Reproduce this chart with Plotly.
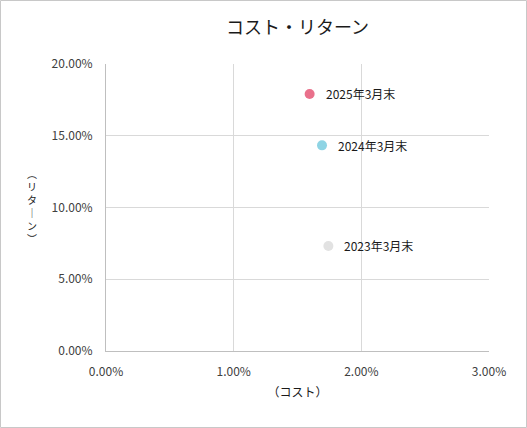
import plotly.graph_objects as go

labels = ["2025年3月末", "2024年3月末", "2023年3月末"]
cost = [0.01595, 0.01692, 0.01742]
ret = [0.1791, 0.1433, 0.0732]
colors = ["#E9708B", "#8ED4E4", "#E2E2E2"]

W, H = 527, 428
ML, MR, MT, MB = 106, 38, 64, 77
FONT = "Noto Sans CJK JP"

fig = go.Figure()
for lab, x, y, c in zip(labels, cost, ret, colors):
    fig.add_trace(go.Scatter(
        x=[x], y=[y], mode="markers", name=lab,
        marker=dict(size=10, color=c, line=dict(width=0)),
        hoverinfo="skip", showlegend=False, cliponaxis=False,
    ))
    fig.add_annotation(x=x, y=y, text=lab, showarrow=False, xanchor="left",
                       xshift=14, yshift=0,
                       font=dict(family=FONT, size=12, color="#1a1a1a"))

# outer border
pw, ph = W - ML - MR, H - MT - MB
fig.add_shape(type="rect", xref="paper", yref="paper",
              x0=(-ML + 0.5) / pw, x1=(pw + MR - 0.5) / pw,
              y0=(-MB + 0.5) / ph, y1=(ph + MT - 0.5) / ph,
              line=dict(color="#C8C8C8", width=1), layer="below")

# vertical y-axis title (stacked characters)
vtitle = "<br>".join(["︵", "リ", "タ", "｜", "ン", "︶"])
fig.add_annotation(xref="paper", yref="paper",
                   x=(32 - ML) / pw, y=(H - MB - 207) / ph,
                   text=vtitle, showarrow=False, xanchor="center", yanchor="middle",
                   align="center",
                   font=dict(family="Liberation Sans, Noto Sans CJK JP", size=10,
                             color="#1a1a1a"))

fig.update_layout(
    width=W, height=H,
    margin=dict(l=ML, r=MR, t=MT, b=MB),
    paper_bgcolor="white", plot_bgcolor="white",
    font=dict(family=FONT, size=12, color="#404040"),
    title=dict(text="コスト・リターン", x=0.5, xref="paper", xanchor="center",
               y=1 - 28 / H, yanchor="middle",
               font=dict(family=FONT, size=18, color="#1a1a1a")),
    xaxis=dict(range=[0, 0.03], tickvals=[0, 0.01, 0.02, 0.03], tickformat=".2%",
               showgrid=True, gridcolor="#D9D9D9", gridwidth=1,
               showline=True, linecolor="#BFBFBF", zeroline=False,
               ticks="outside", ticklen=10, tickcolor="rgba(0,0,0,0)",
               tickfont=dict(family=FONT, size=12, color="#404040"),
               title=dict(text="（コスト）", standoff=10,
                          font=dict(family=FONT, size=12, color="#1a1a1a"))),
    yaxis=dict(range=[0, 0.20], tickvals=[0, 0.05, 0.10, 0.15, 0.20], tickformat=".2%",
               showgrid=True, gridcolor="#D9D9D9", gridwidth=1,
               showline=True, linecolor="#BFBFBF", zeroline=False,
               ticks="outside", ticklen=10, tickcolor="rgba(0,0,0,0)",
               tickfont=dict(family=FONT, size=12, color="#404040")),
)

fig.write_html("out.html", config={"displayModeBar": False},
               post_script="document.body.style.margin='0';document.body.style.overflow='hidden';")
